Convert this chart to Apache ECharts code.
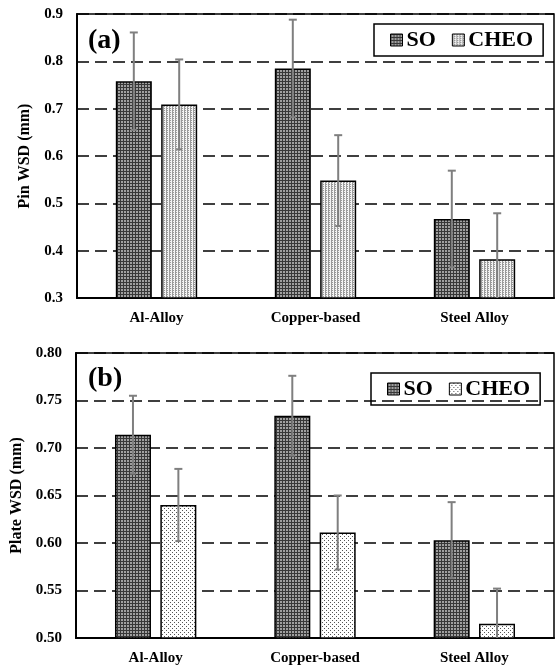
<!DOCTYPE html>
<html>
<head>
<meta charset="utf-8">
<script src="https://cdn.jsdelivr.net/npm/echarts@6/dist/echarts.min.js"></script>
<style>
html, body { margin: 0; padding: 0; background: #fff; }
#main { width: 556px; height: 666px; }
</style>
</head>
<body>
<div id="main"></div>
<script>
var categories = ['Al-Alloy', 'Copper-based', 'Steel Alloy'];

// (a) Pin WSD (mm)
var pinSO = [0.758, 0.785, 0.467];
var pinSOErr = [0.103, 0.103, 0.102];
var pinCHEO = [0.709, 0.548, 0.382];
var pinCHEOErr = [0.095, 0.096, 0.097];

// (b) Plate WSD (mm)
var plateSO = [0.714, 0.734, 0.603];
var plateSOErr = [0.041, 0.042, 0.040];
var plateCHEO = [0.640, 0.611, 0.515];
var plateCHEOErr = [0.038, 0.039, 0.037];

var pinTicks = { min: 0.3, max: 0.9, interval: 0.1 };
var plateTicks = { min: 0.5, max: 0.8, interval: 0.05 };

function makePattern(w, h, bg, fg, dots) {
    var c = document.createElement('canvas');
    c.width = w;
    c.height = h;
    var ctx = c.getContext('2d');
    ctx.fillStyle = bg;
    ctx.fillRect(0, 0, w, h);
    ctx.fillStyle = fg;
    dots.forEach(function (d) { ctx.fillRect(d[0], d[1], 1, 1); });
    return { image: c, repeat: 'repeat' };
}

var patSO = makePattern(3, 3, '#a0a0a0', '#383838', [[0, 0], [1, 0], [2, 0], [0, 1], [0, 2]]);
var patCheoA = makePattern(3, 2, '#f4f4f4', '#9a9a9a', [[1, 0], [1, 1], [2, 0]]);
var patCheoB = makePattern(4, 4, '#ffffff', '#555555', [[0, 0], [2, 2]]);

var font = 'Liberation Serif';
var barW = 36;
var off = 22.7;

function errBars(shift) {
    return function (params, api) {
        var cat = api.value(0);
        var hi = api.coord([cat, api.value(2)]);
        var lo = api.coord([cat, api.value(1)]);
        var cs = params.coordSys;
        var x = hi[0] + shift;
        var bottom = cs.y + cs.height;
        var yLo = Math.min(lo[1], bottom);
        var style = { stroke: '#7f7f7f', lineWidth: 2 };
        var kids = [
            { type: 'line', shape: { x1: x, y1: hi[1], x2: x, y2: yLo }, style: style },
            { type: 'line', shape: { x1: x - 4, y1: hi[1], x2: x + 4, y2: hi[1] }, style: style }
        ];
        if (lo[1] <= bottom) {
            kids.push({ type: 'line', shape: { x1: x - 3, y1: lo[1], x2: x + 3, y2: lo[1] }, style: style });
        }
        return { type: 'group', children: kids };
    };
}

function errData(vals, errs) {
    return vals.map(function (v, i) { return [i, v - errs[i], v + errs[i]]; });
}

function yAxis(idx, ticks, name, gap, digits) {
    return {
        type: 'value',
        gridIndex: idx,
        min: ticks.min,
        max: ticks.max,
        interval: ticks.interval,
        name: name,
        nameLocation: 'middle',
        nameGap: gap,
        nameTextStyle: { fontFamily: font, fontWeight: 'bold', fontSize: 16, color: '#000' },
        axisLine: { show: true, lineStyle: { color: '#000', width: 2 } },
        axisTick: { show: false },
        axisLabel: {
            fontFamily: font, fontWeight: 'bold', fontSize: 15, color: '#000', margin: 14,
            formatter: function (v) { return v.toFixed(digits); }
        },
        splitLine: { lineStyle: { color: '#000', width: 1.5, type: [12, 6] } }
    };
}

function xAxis(idx) {
    return {
        type: 'category',
        gridIndex: idx,
        data: categories,
        axisLine: { lineStyle: { color: '#000', width: 2 } },
        axisTick: { show: false },
        axisLabel: { fontFamily: font, fontWeight: 'bold', fontSize: 15, color: '#000', margin: 13 }
    };
}

function legend(top, left, cheoPat) {
    return {
        top: top,
        left: left,
        orient: 'horizontal',
        borderColor: '#000',
        borderWidth: 1.5,
        borderRadius: 0,
        padding: [5, 10, 5, 16],
        itemGap: 16,
        itemWidth: 12,
        itemHeight: 12,
        icon: 'rect',
        selectedMode: false,
        textStyle: { fontFamily: font, fontWeight: 'bold', fontSize: 22, color: '#000', padding: [0, 0, 0, -1] },
        data: [
            { name: 'SO', itemStyle: { color: patSO, borderColor: '#000', borderWidth: 1 } },
            { name: 'CHEO', itemStyle: { color: cheoPat, borderColor: '#000', borderWidth: 1 } }
        ]
    };
}

function bar(name, idx, data, pat) {
    return {
        name: name,
        type: 'bar',
        xAxisIndex: idx,
        yAxisIndex: idx,
        barWidth: barW,
        barGap: '26%',
        data: data,
        itemStyle: { color: pat, borderColor: '#000', borderWidth: 1.5 }
    };
}

function err(idx, data, shift) {
    return {
        type: 'custom',
        xAxisIndex: idx,
        yAxisIndex: idx,
        renderItem: errBars(shift),
        encode: { x: 0, y: [1, 2] },
        data: data,
        z: 5,
        silent: true
    };
}

var myChart = echarts.init(document.getElementById('main'));
var option = {
    backgroundColor: '#fff',
    animation: false,
    title: [
        { text: '(a)', left: 83, top: 22, textStyle: { fontFamily: font, fontWeight: 'bold', fontSize: 28, color: '#000' } },
        { text: '(b)', left: 83, top: 360, textStyle: { fontFamily: font, fontWeight: 'bold', fontSize: 28, color: '#000' } }
    ],
    legend: [legend(24, 374, patCheoA), legend(373, 371, patCheoB)],
    grid: [
        { left: 77, right: 2, top: 14, height: 284, show: true, borderColor: '#000', borderWidth: 1.5 },
        { left: 76, right: 2, top: 353, height: 286, show: true, borderColor: '#000', borderWidth: 1.5 }
    ],
    xAxis: [xAxis(0), xAxis(1)],
    yAxis: [
        yAxis(0, pinTicks, 'Pin WSD (mm)', 43, 1),
        yAxis(1, plateTicks, 'Plate WSD (mm)', 48, 2)
    ],
    series: [
        bar('SO', 0, pinSO, patSO),
        bar('CHEO', 0, pinCHEO, patCheoA),
        bar('SO', 1, plateSO, patSO),
        bar('CHEO', 1, plateCHEO, patCheoB),
        err(0, errData(pinSO, pinSOErr), -off),
        err(0, errData(pinCHEO, pinCHEOErr), off),
        err(1, errData(plateSO, plateSOErr), -off),
        err(1, errData(plateCHEO, plateCHEOErr), off)
    ]
};
myChart.setOption(option);
window.onresize = myChart.resize;
</script>
</body>
</html>
